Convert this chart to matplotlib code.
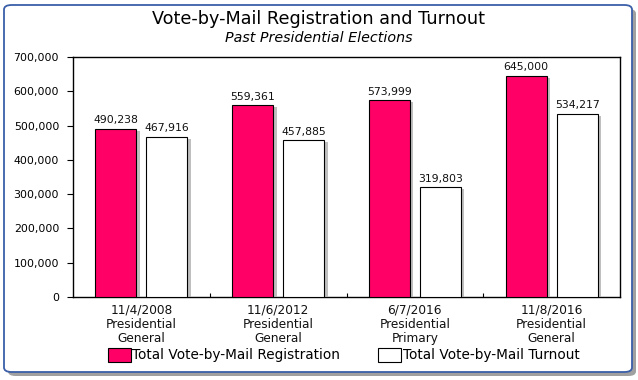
import matplotlib
matplotlib.use("Agg")
import matplotlib.pyplot as plt
import matplotlib.patheffects as pe
from matplotlib.patches import FancyBboxPatch, Patch
import numpy as np

categories = ["11/4/2008\nPresidential\nGeneral", "11/6/2012\nPresidential\nGeneral",
              "6/7/2016\nPresidential\nPrimary", "11/8/2016\nPresidential\nGeneral"]
registration = [490238, 559361, 573999, 645000]
turnout = [467916, 457885, 319803, 534217]
yticks = [0, 100000, 200000, 300000, 400000, 500000, 600000, 700000]

plt.rcParams['font.family'] = ['DejaVu Sans']
W, H = 638, 380
fig = plt.figure(figsize=(W/100, H/100), dpi=100)
fig.patch.set_facecolor('white')

# figure border with shadow
shadow = FancyBboxPatch((8/W, 4/H), 628/W, 367/H, boxstyle="round,pad=0,rounding_size=0.012",
                        transform=fig.transFigure, facecolor='#a0a0a0', edgecolor='none', zorder=-2)
border = FancyBboxPatch((4/W, 8/H), 628/W, 367/H, boxstyle="round,pad=0,rounding_size=0.012",
                        transform=fig.transFigure, facecolor='white', edgecolor='#3a5fa8', linewidth=1.3, zorder=-1)
fig.patches.extend([shadow, border])

ax = fig.add_axes([73/W, 1-297/H, (620-73)/W, (297-57)/H])
ax.set_facecolor('white')
x = np.arange(len(categories))
bw = 0.30
off = 0.187
shadow_fx = [pe.SimplePatchShadow(offset=(2.5, -1.5), shadow_rgbFace='#b0b0b0', alpha=0.8), pe.Normal()]
b1 = ax.bar(x - off, registration, bw, color='#ff0066', edgecolor='black', linewidth=0.8, zorder=3)
b2 = ax.bar(x + off, turnout, bw, color='white', edgecolor='black', linewidth=0.8, zorder=3)
for b in list(b1) + list(b2):
    b.set_path_effects(shadow_fx)

for xi, v in zip(x - off, registration):
    ax.text(xi, v + 10000, f"{v:,}", ha='center', va='bottom', fontsize=7.8, color='#111111')
for xi, v in zip(x + off, turnout):
    ax.text(xi, v + 10000, f"{v:,}", ha='center', va='bottom', fontsize=7.8, color='#111111')

ax.set_xlim(-0.5, len(categories) - 0.5)
ax.set_ylim(0, 700000)
ax.set_yticks(yticks)
ax.set_yticklabels([f"{t:,}" for t in yticks], fontsize=7.9)
ax.tick_params(axis='y', length=4, width=0.8, pad=6, direction='out')
ax.set_xticks(x)
ax.set_xticklabels(categories, fontsize=8.7, linespacing=1.12, color='#111111')
ax.tick_params(axis='x', length=0, pad=5)
ax.set_xticks(np.arange(0.5, len(categories) - 0.5, 1), minor=True)
ax.tick_params(axis='x', which='minor', length=3, direction='in', width=0.8)
for s in ax.spines.values():
    s.set_linewidth(1.0)
    s.set_color('black')

fig.text(0.5, 1-19/H, "Vote-by-Mail Registration and Turnout", ha='center', va='center', fontsize=12.7)
fig.text(0.5, 1-38/H, "Past Presidential Elections", ha='center', va='center', fontsize=10.3, style='italic')

handles = [Patch(facecolor='#ff0066', edgecolor='black', linewidth=0.8),
           Patch(facecolor='white', edgecolor='black', linewidth=0.8)]
fig.legend(handles, ["Total Vote-by-Mail Registration", "Total Vote-by-Mail Turnout"],
           loc='center', bbox_to_anchor=(343.5/W, 1-355/H), ncol=2, frameon=False, fontsize=9.8,
           handlelength=1.7, handleheight=1.2, handletextpad=0.1, columnspacing=2.8)

fig.savefig("out.png", dpi=100)
